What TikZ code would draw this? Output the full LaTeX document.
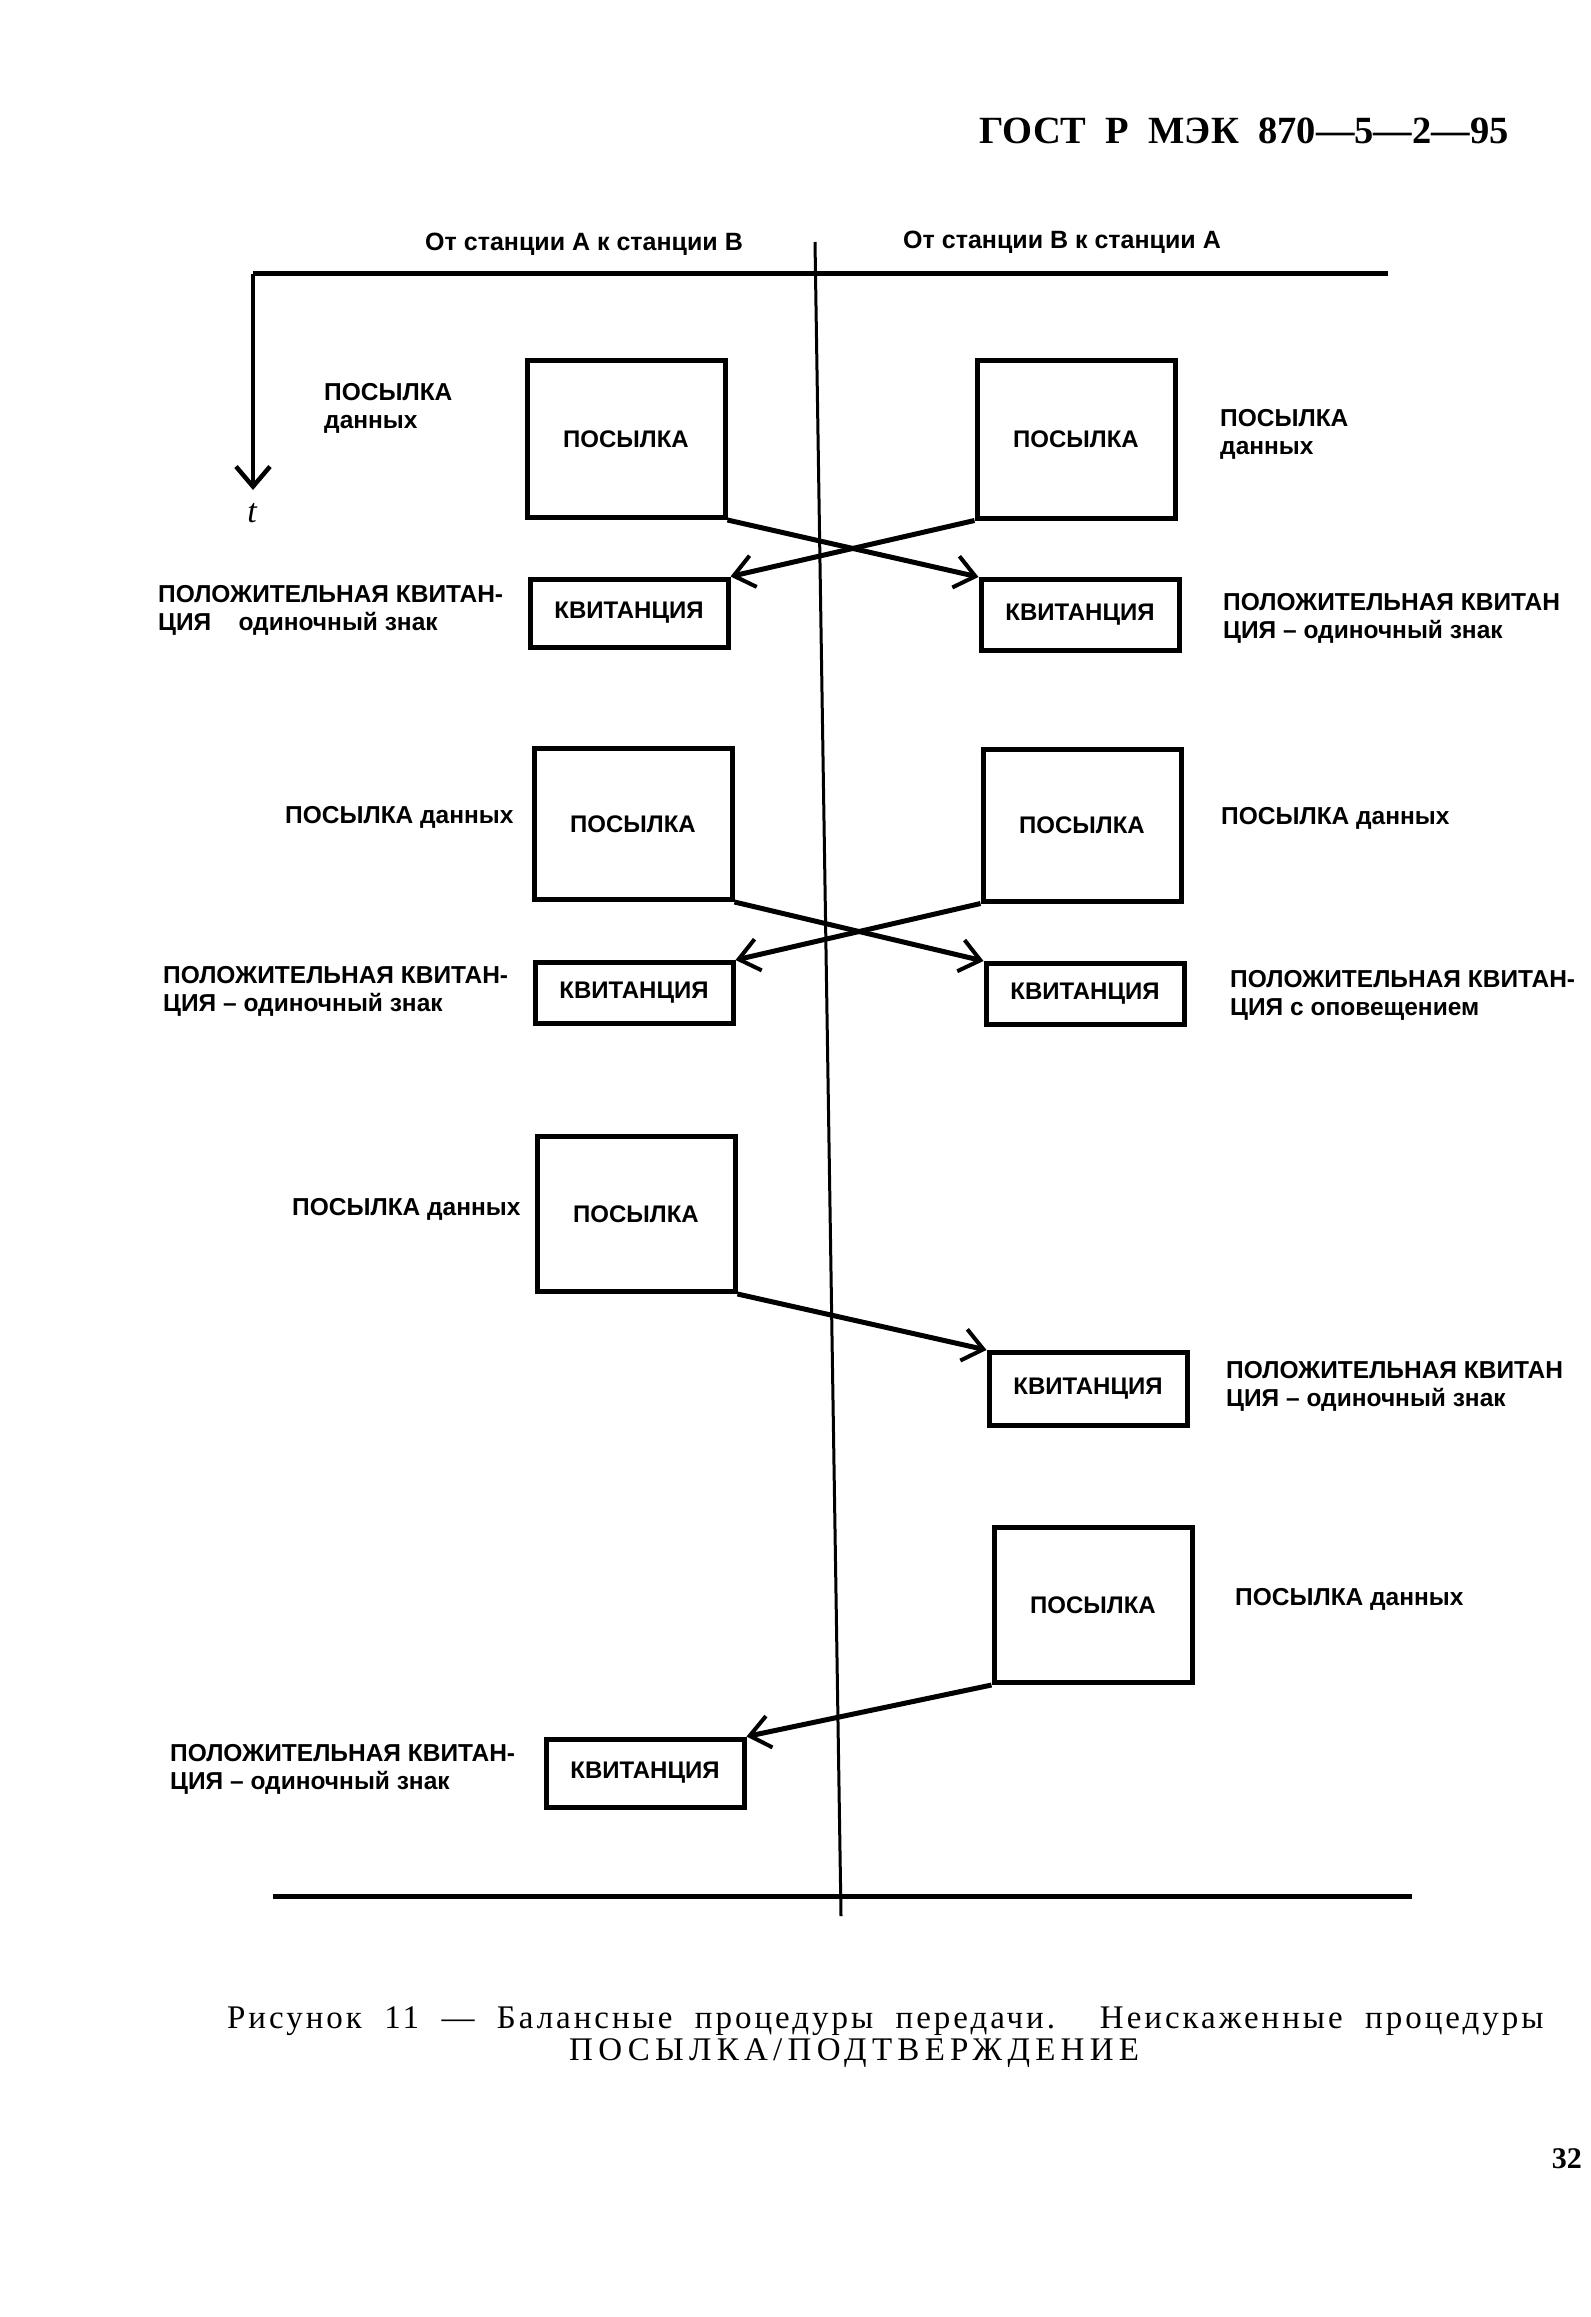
\documentclass[tikz,border=0pt]{standalone}
\usepackage{fontspec}
\setmainfont{Liberation Serif}
\newfontfamily\labelfont{Liberation Sans}
\newfontfamily\capfont[LetterSpace=9, WordSpace=2]{Liberation Serif}
\newfontfamily\capwidefont[LetterSpace=16]{Liberation Serif}
\usepackage{tikz}
\usetikzlibrary{arrows.meta, positioning, calc}
\newcommand{\lblsize}{\fontsize{24.5}{28}\selectfont}
\newcommand{\boxsize}{\fontsize{24}{28}\selectfont}
\newcommand{\capsize}{\fontsize{33}{38}\selectfont}

\begin{document}
\begin{tikzpicture}[x=1pt, y=-1pt,
  sendbox/.style={draw, line width=5pt, minimum width=198pt, minimum height=155pt,
               inner sep=0pt, align=center, font=\labelfont\bfseries\boxsize},
  ackbox/.style={sendbox, minimum height=69pt},
  lbl/.style={anchor=west, align=left, inner sep=0pt, font=\labelfont\bfseries\lblsize},
  hdr/.style={inner sep=0pt, font=\labelfont\bfseries\fontsize{25}{28}\selectfont},
  arr/.style={line width=5pt, -{Straight Barb[length=20pt, width=32pt, line width=4pt]}},
  thickline/.style={line width=5pt},
]
  \useasboundingbox (0,0) rectangle (1590,2317);

  % Title and headers
  \node[anchor=base west, inner sep=0pt, font=\bfseries\fontsize{38.5}{44}\selectfont] (gost) at (979,144)
    {ГОСТ\ \ Р\ \ МЭК\ \ 870—5—2—95};
  \node[hdr] (hdrA) at (584,244) {От станции А к станции В};
  \node[hdr] (hdrB) at (1062,242) {От станции В к станции А};

  % Time axis and frame lines
  \coordinate (topL) at (253,274);
  \coordinate (topR) at (1388,274);
  \coordinate (tEnd) at (253,490);
  \coordinate (botL) at (273,1896);
  \coordinate (botR) at (1412,1896);
  \coordinate (midT) at (815,242);
  \coordinate (midB) at (841,1916);
  \draw[thickline] (topL) -- (topR);
  \draw[thickline] (botL) -- (botR);
  \draw[line width=3pt] (midT) -- (midB);
  \draw[line width=3.5pt, -{Straight Barb[length=20pt, width=34pt, line width=4.5pt]}] (topL) -- (tEnd);
  \node[inner sep=0pt, font=\itshape\fontsize{34}{38}\selectfont] (tlab) at (252,513) {t};

  % Row 1
  \node[sendbox, minimum height=157pt] (pA1) at (626,439) {ПОСЫЛКА};
  \node[sendbox, minimum height=158pt] (pB1) at (1076,439) {ПОСЫЛКА};
  \node[ackbox, minimum height=68pt] (kA1) at (629,613) {КВИТАНЦИЯ};
  \node[ackbox, minimum height=71pt] (kB1) at (1080,615) {КВИТАНЦИЯ};

  % Row 2
  \node[sendbox, minimum height=151pt] (pA2) at (633,824) {ПОСЫЛКА};
  \node[sendbox, minimum height=152pt] (pB2) at (1082,825) {ПОСЫЛКА};
  \node[ackbox, minimum height=61pt] (kA2) at (634,993) {КВИТАНЦИЯ};
  \node[ackbox, minimum height=61pt] (kB2) at (1085,994) {КВИТАНЦИЯ};

  % Row 3
  \node[sendbox] (pA3) at (636,1214) {ПОСЫЛКА};
  \node[ackbox, minimum height=73pt] (kB3) at (1088,1389) {КВИТАНЦИЯ};

  % Row 4
  \node[sendbox] (pB4) at (1093,1605) {ПОСЫЛКА};
  \node[ackbox, minimum height=68pt] (kA4) at (645,1773) {КВИТАНЦИЯ};

  \foreach \i/\j in {pA1/kB1,pA2/kB2,pA3/kB3} {
    \draw[arr] (\i.south east) -- (\j.north west);
  }
  \foreach \i/\j in {pB1/kA1,pB2/kA2,pB4/kA4} {
    \draw[arr] (\i.south west) -- (\j.north east);
  }

  % Side annotations
  \node[lbl] (lA1) at (324,408) {ПОСЫЛКА\\данных};
  \node[lbl] (lB1) at (1220,434) {ПОСЫЛКА\\данных};
  \node[lbl] (lkA1) at (158,610) {ПОЛОЖИТЕЛЬНАЯ КВИТАН-\\ЦИЯ \phantom{–} одиночный знак};
  \node[lbl] (lkB1) at (1223,618) {ПОЛОЖИТЕЛЬНАЯ КВИТАН\\ЦИЯ – одиночный знак};
  \node[lbl] (lA2) at (285,817) {ПОСЫЛКА данных};
  \node[lbl] (lB2) at (1221,818) {ПОСЫЛКА данных};
  \node[lbl] (lkA2) at (163,991) {ПОЛОЖИТЕЛЬНАЯ КВИТАН-\\ЦИЯ – одиночный знак};
  \node[lbl] (lkB2) at (1230,995) {ПОЛОЖИТЕЛЬНАЯ КВИТАН-\\ЦИЯ с оповещением};
  \node[lbl] (lA3) at (292,1209) {ПОСЫЛКА данных};
  \node[lbl] (lkB3) at (1226,1386) {ПОЛОЖИТЕЛЬНАЯ КВИТАН\\ЦИЯ – одиночный знак};
  \node[lbl] (lB4) at (1235,1599) {ПОСЫЛКА данных};
  \node[lbl] (lkA4) at (170,1769) {ПОЛОЖИТЕЛЬНАЯ КВИТАН-\\ЦИЯ – одиночный знак};

  % Caption and page number
  \node[anchor=base west, inner sep=0pt, font=\capfont\capsize] (cap1) at (227,2028)
    {Рисунок 11 — Балансные процедуры передачи.\ \ Неискаженные процедуры};
  \node[anchor=base west, inner sep=0pt, font=\capwidefont\capsize] (cap2) at (569,2060)
    {ПОСЫЛКА/ПОДТВЕРЖДЕНИЕ};
  \node[anchor=base east, inner sep=0pt, font=\bfseries\fontsize{30}{34}\selectfont] (pnum) at (1582,2168) {32};
\end{tikzpicture}
\end{document}
